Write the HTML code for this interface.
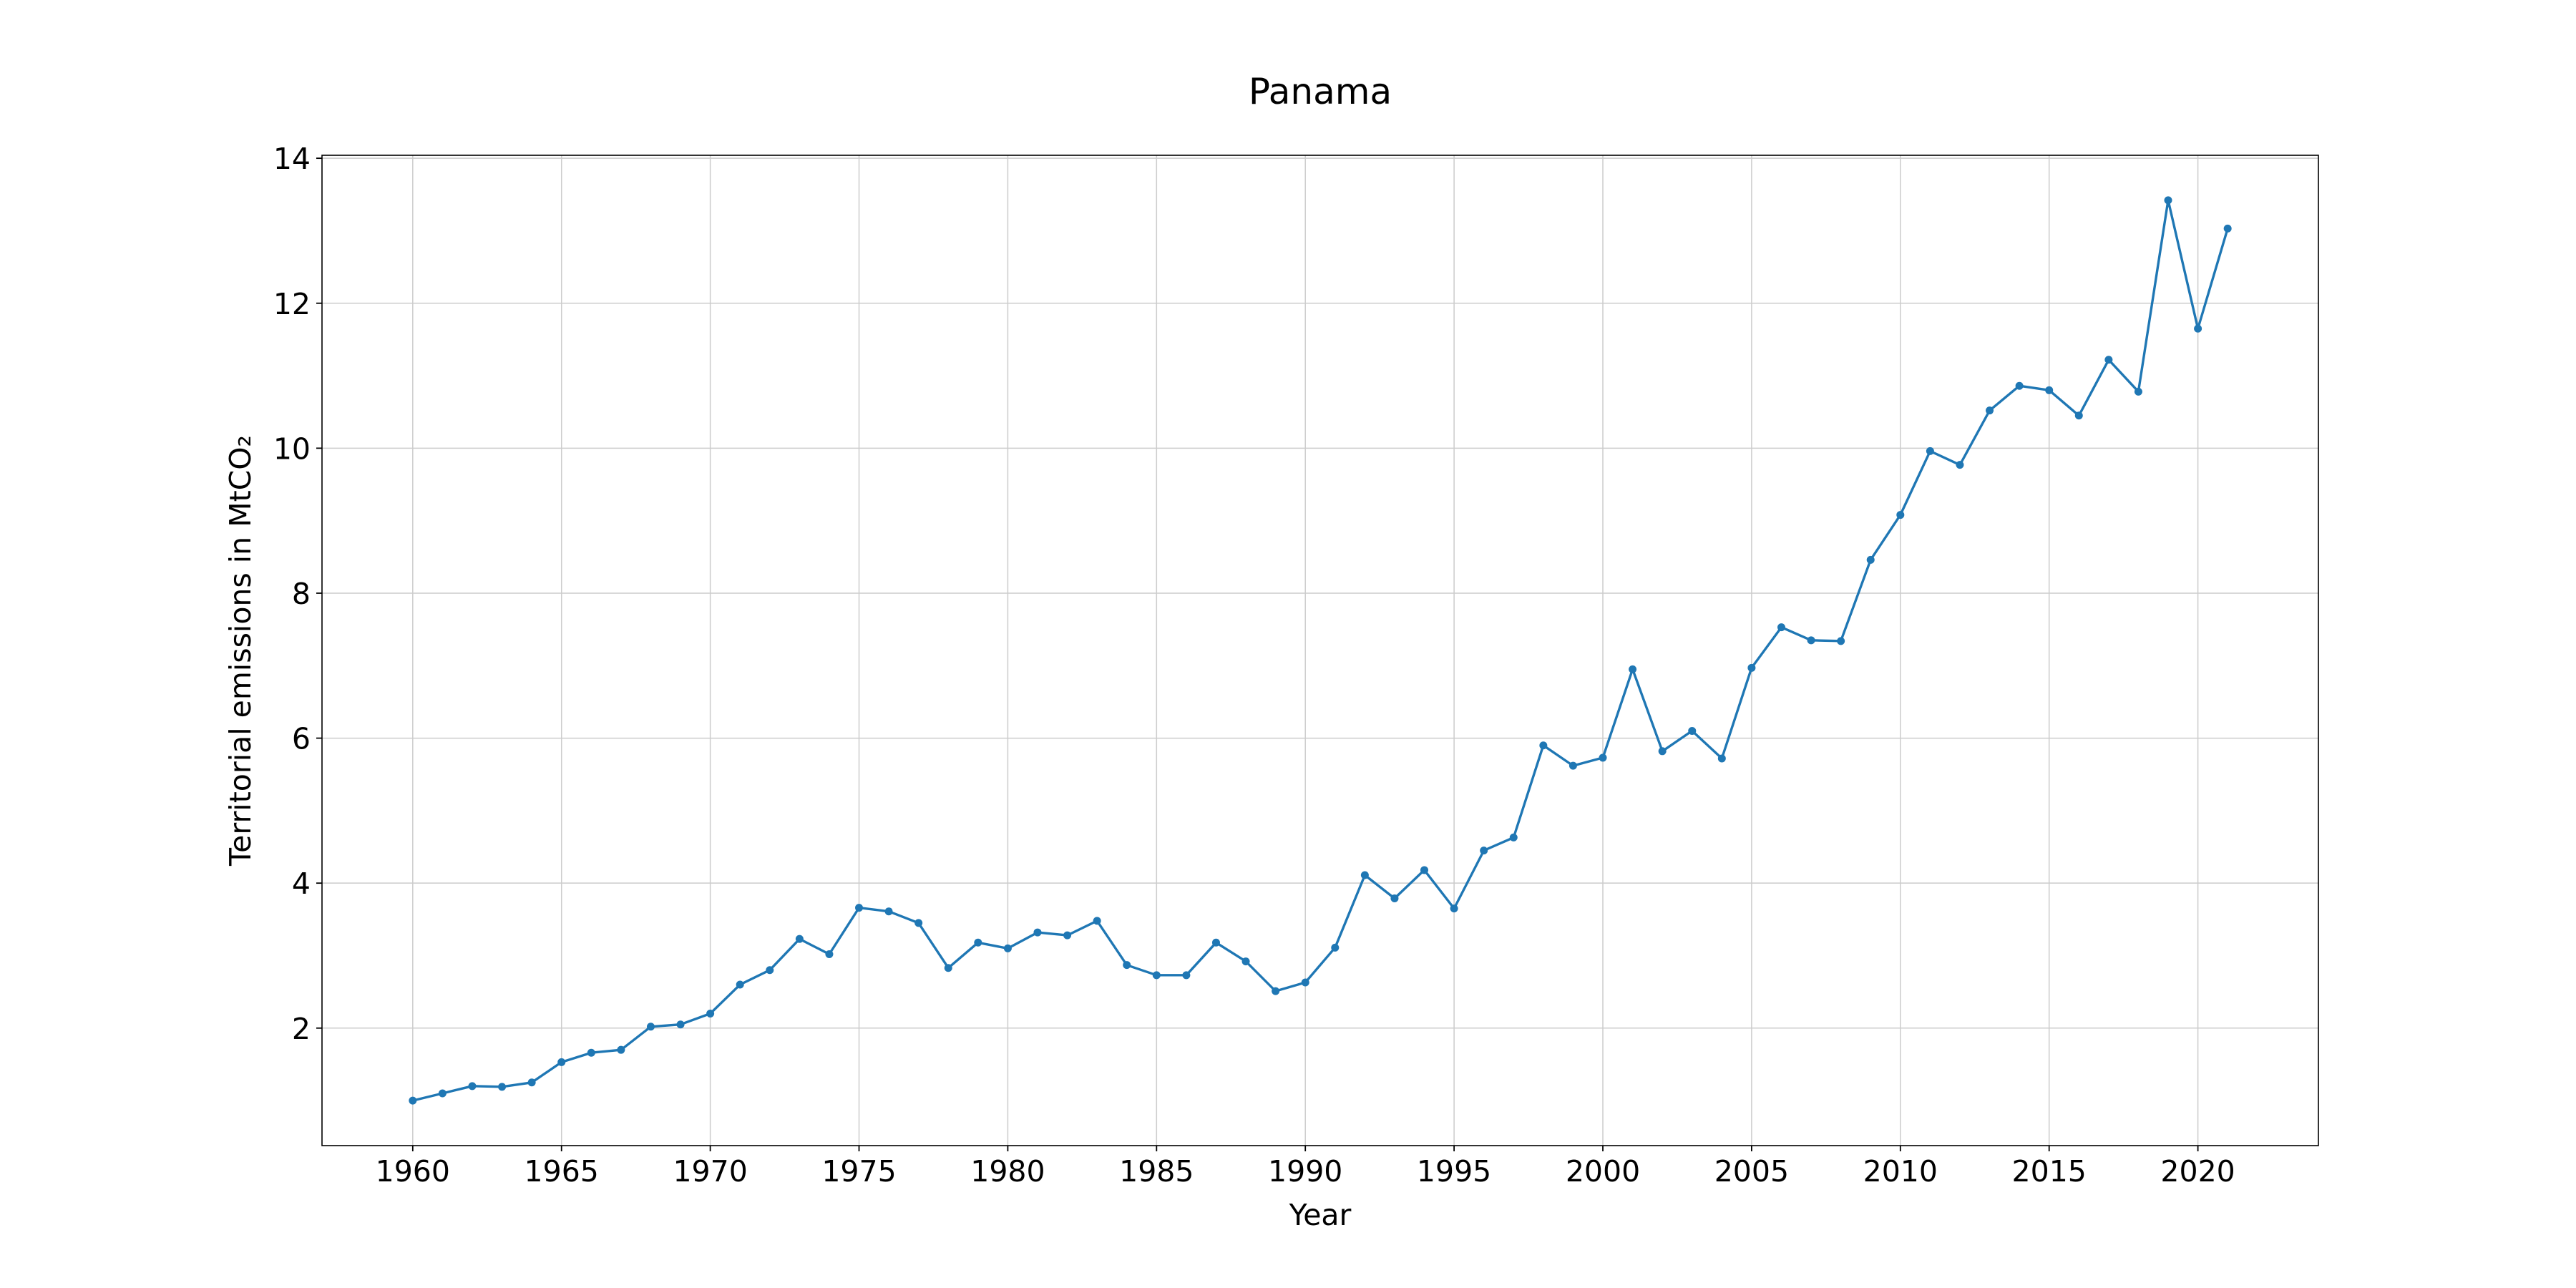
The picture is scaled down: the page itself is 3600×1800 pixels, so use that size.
<!DOCTYPE html>
<html><head><meta charset="utf-8"><style>
html,body{margin:0;padding:0;background:#fff;}
svg{display:block;font-family:"DejaVu Sans","Liberation Sans",sans-serif;}
</style></head><body>
<svg id="chart" width="3600" height="1800" viewBox="0 0 3600 1800">
<rect width="3600" height="1800" fill="#fff"/>
<text x="1845" y="145" font-size="50" text-anchor="middle">Panama</text>
<g id="grid"></g>
<g id="series"></g>
<rect x="450" y="217" width="2790" height="1384" fill="none" stroke="#000" stroke-width="1.6"/>
<g id="ticks"></g>
<text x="1845" y="1712" font-size="41" text-anchor="middle">Year</text>
<text transform="translate(350,909) rotate(-90)" font-size="41" text-anchor="middle">Territorial emissions in MtCO₂</text>
</svg>
<script>
const years = [1960,1961,1962,1963,1964,1965,1966,1967,1968,1969,1970,1971,1972,1973,1974,1975,1976,1977,1978,1979,1980,1981,1982,1983,1984,1985,1986,1987,1988,1989,1990,1991,1992,1993,1994,1995,1996,1997,1998,1999,2000,2001,2002,2003,2004,2005,2006,2007,2008,2009,2010,2011,2012,2013,2014,2015,2016,2017,2018,2019,2020,2021];
const emissions = [1.00,1.10,1.20,1.19,1.25,1.53,1.66,1.70,2.02,2.05,2.20,2.60,2.80,3.23,3.02,3.66,3.61,3.45,2.83,3.18,3.10,3.32,3.28,3.48,2.87,2.73,2.73,3.18,2.92,2.51,2.63,3.11,4.11,3.79,4.18,3.65,4.45,4.63,5.90,5.62,5.73,6.95,5.82,6.10,5.72,6.97,7.53,7.35,7.34,8.46,9.08,9.96,9.77,10.52,10.86,10.80,10.45,11.22,10.78,13.42,11.65,13.03];
const xTicks = [1960,1965,1970,1975,1980,1985,1990,1995,2000,2005,2010,2015,2020];
const yTicks = [2,4,6,8,10,12,14];

const L=450,R=3240,T=217,B=1601;
const xmin=1956.95,xmax=2024.05,ymin=0.379,ymax=14.041;
function sx(v){return L+(v-xmin)/(xmax-xmin)*(R-L);}
function sy(v){return B-(v-ymin)/(ymax-ymin)*(B-T);}
const NS="http://www.w3.org/2000/svg";
const grid=document.getElementById('grid'),ticks=document.getElementById('ticks'),series=document.getElementById('series');
function mk(tag,attrs,parent){const e=document.createElementNS(NS,tag);for(const k in attrs)e.setAttribute(k,attrs[k]);parent.appendChild(e);return e;}
xTicks.forEach(t=>{
  const x=sx(t);
  const g=mk('line',{x1:x,x2:x,y1:T,y2:B,stroke:'#cccccc','stroke-width':1.5},grid);
  
  
  const tk=mk('line',{x1:x,x2:x,y1:B,y2:B+8,stroke:'#000','stroke-width':1.8},ticks);
  
  
  const lb=mk('text',{x:x,y:B+50,'font-size':41,'text-anchor':'middle'},ticks);
  lb.textContent=t;
  
  
});
yTicks.forEach(t=>{
  const y=sy(t);
  const g=mk('line',{x1:L,x2:R,y1:y,y2:y,stroke:'#cccccc','stroke-width':1.5},grid);
  
  
  const tk=mk('line',{x1:L-8,x2:L,y1:y,y2:y,stroke:'#000','stroke-width':1.8},ticks);
  
  
  const lb=mk('text',{x:L-16,y:y+15,'font-size':41,'text-anchor':'end'},ticks);
  lb.textContent=t;
  
  
});
const pts=years.map((y,i)=>sx(y).toFixed(1)+','+sy(emissions[i]).toFixed(1)).join(' ');
const line=mk('polyline',{points:pts,fill:'none',stroke:'#1f77b4','stroke-width':3.4,'stroke-linejoin':'round'},series);


years.forEach((y,i)=>{
  const c=mk('circle',{cx:sx(y),cy:sy(emissions[i]),r:5.5,fill:'#1f77b4'},series);
  
  
});
</script>
</body></html>
